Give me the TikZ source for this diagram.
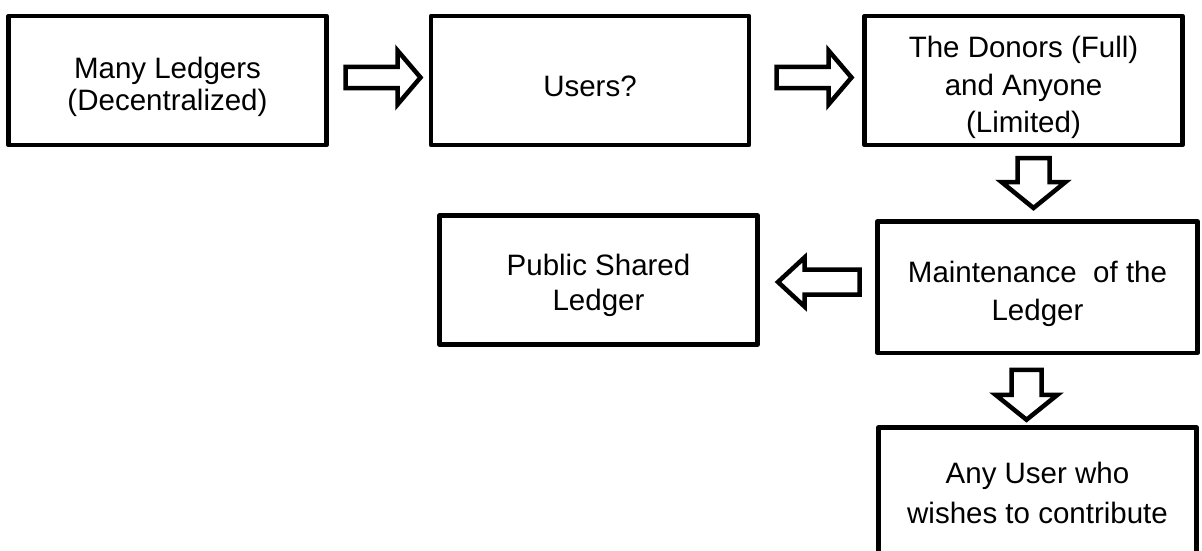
\documentclass[tikz,border=0pt]{standalone}
\usepackage{fontspec}
\setmainfont{Liberation Sans}
\usetikzlibrary{calc}

\tikzset{
  box/.style={draw=black, fill=white, line width=4.5pt, line join=round,
    minimum width=318pt, minimum height=129pt, inner sep=0pt, outer sep=0pt},
  boxtext/.style={anchor=north, inner sep=0pt, align=center,
    font=\fontsize{29.5}{#1}\selectfont},
  boxtext/.default=33,
  outline/.style={draw=black, fill=white, line width=4.5pt, line join=miter},
  % hollow block arrow: length, head length, shaft half-width, head half-width
  pics/fatarrow/.style n args={4}{code={
    \path[outline] (0,-#3) -- (#1-#2,-#3) -- (#1-#2,-#4) -- (#1,0)
      -- (#1-#2,#4) -- (#1-#2,#3) -- (0,#3) -- cycle;}}
}

\begin{document}
\begin{tikzpicture}[x=1pt,y=-1pt]
  \useasboundingbox (0,0) rectangle (1202,551);
  \clip (0,0) rectangle (1202,551);

  % boxes
  \node[box] (b1) at (167.5,80.5) {};
  \node[box] (b2) at (590,80.5) {};
  \node[box] (b3) at (1023.5,80.5) {};
  \node[box, minimum width=320pt, minimum height=131.5pt] (b4) at (1037.5,287) {};
  \node[box] (b5) at (598.5,280) {};
  \node[box, minimum height=130pt] (b6) at (1037.5,492.5) {};

  % box texts
  \node[boxtext=32] (t1) at ($(b1.north)+(0,41)$) {Many Ledgers\\(Decentralized)};
  \node[boxtext] (t2) at ($(b2.north)+(0,59.5)$) {Users?};
  \node[boxtext=37.5] (t3) at ($(b3.north)+(0,20)$) {The Donors (Full)\\and Anyone\\(Limited)};
  \node[boxtext=37.5] (t4) at ($(b4.north)+(0,39.75)$) {Maintenance\ \ of the\\Ledger};
  \node[boxtext=35] (t5) at ($(b5.north)+(0,38.5)$) {Public Shared\\Ledger};
  \node[boxtext=40] (t6) at ($(b6.north)+(0,34.5)$) {Any User who\\wishes to contribute};

  % block arrows between the boxes
  \pic at ($(b1.east)+(19,-3)$) {fatarrow={75}{23}{10.5}{27}};
  \pic at ($(b2.east)+(27.5,-3)$) {fatarrow={75}{23}{10.5}{27}};
  \pic[rotate=-90] at ($(b3.south)+(10,13)$) {fatarrow={50}{26}{16}{32}};
  \pic[rotate=-90] at ($(b4.south)+(-11,17)$) {fatarrow={50}{25}{15}{31}};
  \pic[rotate=180] at ($(b4.west)+(-18,-5)$) {fatarrow={81.5}{26.5}{12.5}{24.5}};
\end{tikzpicture}
\end{document}
